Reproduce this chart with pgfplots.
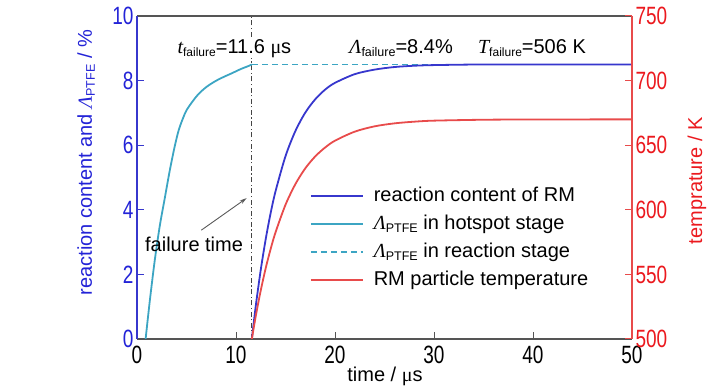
\documentclass[border=0pt]{standalone}
\usepackage{fontspec}
\setmainfont{Liberation Sans}
\newfontfamily\tickfont{Liberation Sans}[FakeStretch=0.76]
\newfontfamily\tnr{Liberation Serif}
\usepackage{pgfplots}
\pgfplotsset{compat=1.18}
\usetikzlibrary{arrows.meta}
\definecolor{rcblue}{RGB}{55,55,205}
\definecolor{lamcyan}{RGB}{60,165,195}
\definecolor{tred}{RGB}{232,75,75}
\definecolor{axblue}{RGB}{35,35,215}
\definecolor{axred}{RGB}{235,25,30}
\definecolor{spgray}{RGB}{85,85,85}
\newcommand\Lam[1]{{\tnr\itshape Λ}\raisebox{-3pt}{\fontsize{12.5}{12.5}\selectfont #1}}
\newcommand\sub[1]{\raisebox{-3pt}{\fontsize{12}{12}\selectfont #1}}
\newcommand\txt{\fontsize{20}{24}\selectfont}
\newcommand\tck{\tickfont\fontsize{25}{25}\selectfont}
\begin{document}
\begin{tikzpicture}[font=\txt]
\useasboundingbox (0,0) rectangle (728pt,390pt);
\begin{axis}[
  at={(137pt,51pt)}, anchor=south west,
  scale only axis, width=495pt, height=323pt,
  xmin=0, xmax=50, ymin=0, ymax=10,
  separate axis lines,
  axis x line*=box, axis y line*=left,
  x axis line style={spgray, line width=1.3pt, -},
  y axis line style={rcblue, line width=1.3pt, -},
  xtick={0,10,...,50}, ytick={0,2,...,10},
  xtick pos=lower, ytick pos=left,
  tick align=inside, major tick length=7pt,
  x tick style={spgray, line width=1pt},
  y tick style={rcblue, line width=1pt},
  /pgf/number format/assume math mode=true,
  xticklabel style={font=\tck, text=black, anchor=base, yshift=-25pt},
  yticklabel style={font=\tck, text=axblue},
  xlabel={time / {\tnr μ}s},
  xlabel style={at={(rel axis cs:0.501,-0.133)}, anchor=base, font=\txt},
  ylabel={reaction content and \Lam{PTFE} / \%},
  ylabel style={at={(rel axis cs:-0.103,0.546)}, anchor=center, font=\txt, text=axblue},
]
\addplot[spgray!80!black, line width=1.3pt, dash pattern=on 5pt off 2.5pt on 1.2pt off 2.5pt] coordinates {(11.6,0) (11.6,10)};
\addplot[lamcyan, line width=1.8pt, smooth] coordinates {
(0.87,0) (1.3,1.2) (1.8,2.45) (2.3,3.5) (2.8,4.35) (3.3,5.2) (3.8,5.95) (4.2,6.45) (4.6,6.8) (5.0,7.08) (5.6,7.35) (6.2,7.58) (7.0,7.8) (7.9,7.98) (8.8,8.12) (9.6,8.23) (10.5,8.36) (11.25,8.45) (11.6,8.5)};
\addplot[lamcyan, line width=1.5pt, dash pattern=on 6pt off 4pt] coordinates {(11.6,8.5) (50,8.5)};
\addplot[rcblue, line width=1.8pt, smooth] coordinates {
(11.6,0) (12,1.03) (12.5,2.14) (13,3.09) (13.5,3.90) (14,4.58) (15,5.66) (16,6.44) (17,7.01) (18,7.42) (19,7.72) (20,7.93) (22,8.20) (24,8.34) (26,8.42) (28,8.46) (30,8.48) (35,8.50) (40,8.50) (50,8.50)};
\node[anchor=base west, font=\txt, fill=white, inner sep=1pt] at (axis cs:3.98,8.85) {{\tnr\itshape t}\sub{failure}=11.6 {\tnr μ}s};
\node[anchor=base west, font=\txt] at (axis cs:21.1,8.85) {\Lam{failure}=8.4\%};
\node[anchor=base west, font=\txt] at (axis cs:34.1,8.85) {{\tnr\itshape T}\sub{failure}=506 K};
\node[anchor=base west, font=\txt] at (axis cs:0.47,2.70) {failure time};
\draw[-{Stealth[length=7pt,width=4pt]}, black!65, line width=0.9pt] (axis cs:6.5,3.37) -- (axis cs:11.07,4.36);
\end{axis}
\begin{axis}[
  at={(137pt,51pt)}, anchor=south west,
  scale only axis, width=495pt, height=323pt,
  xmin=0, xmax=50, ymin=500, ymax=750,
  axis x line=none, axis y line*=right,
  y axis line style={tred, line width=1.3pt, -},
  ytick={500,550,...,750},
  tick align=inside, major tick length=7pt,
  y tick style={tred, line width=1pt},
  /pgf/number format/assume math mode=true,
  yticklabel style={font=\tck, text=axred},
  ylabel={temprature / K},
  ylabel style={at={(rel axis cs:1.131,0.49)}, anchor=center, font=\txt, text=axred},
  legend cell align=left,
  legend image code/.code={\draw[#1] (0pt,0pt) -- (52pt,0pt);},
  legend style={draw=none, fill=none, at={(rel axis cs:0.349,0.48)}, anchor=north west,
    font=\txt, row sep=4pt, inner sep=0pt,
    nodes={inner sep=2pt, text height=15pt, text depth=5pt},
    /tikz/every odd column/.append style={column sep=8pt}},
]
\addlegendimage{rcblue, line width=1.8pt}
\addlegendentry{reaction content of RM}
\addlegendimage{lamcyan, line width=1.8pt}
\addlegendentry{\Lam{PTFE} in hotspot stage}
\addlegendimage{lamcyan, line width=1.5pt, dash pattern=on 6pt off 4pt}
\addlegendentry{\Lam{PTFE} in reaction stage}
\addplot[tred, line width=1.8pt, smooth] coordinates {
(11.6,500) (12,517.9) (12.5,537.6) (13,554.8) (13.5,569.7) (14,582.7) (15,603.9) (16,619.9) (17,632.1) (18,641.3) (19,648.2) (20,653.5) (22,660.5) (24,664.6) (26,666.9) (28,668.2) (30,669.0) (35,669.7) (40,669.9) (50,670)};
\addlegendentry{RM particle temperature}
\end{axis}
\end{tikzpicture}
\end{document}
